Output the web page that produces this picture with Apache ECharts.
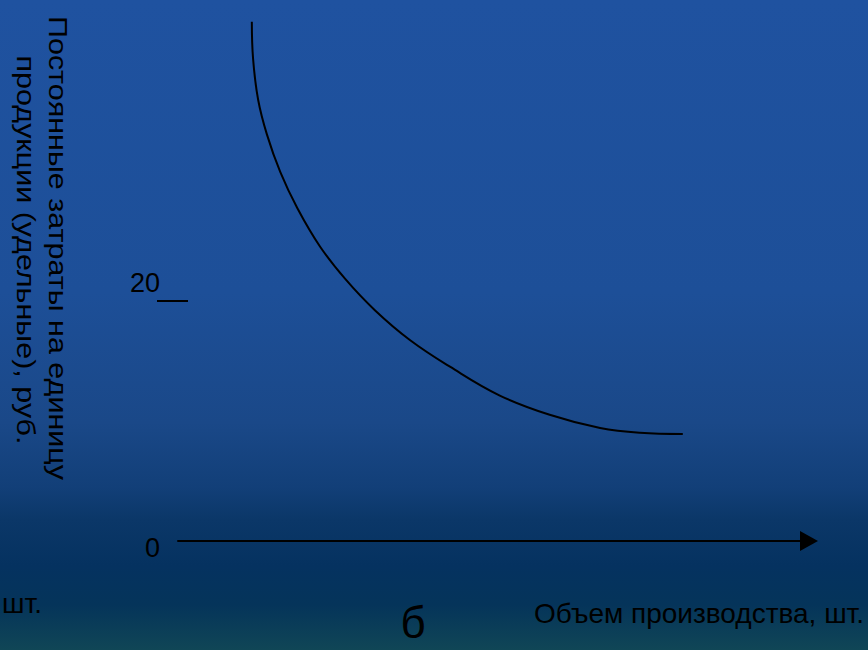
<!DOCTYPE html>
<html>
<head>
<meta charset="utf-8">
<script src="https://cdn.jsdelivr.net/npm/echarts@6/dist/echarts.min.js"></script>
<style>
  html, body { margin: 0; padding: 0; }
  #chart { width: 868px; height: 650px; }
</style>
</head>
<body>
<div id="chart"></div>
<script>
// объем производства (условные единицы по оси X)
const volume = [11.7, 11.9, 12.7, 14.1, 16.2, 18.9, 22.5, 26.5, 31.2, 36.8, 43.1, 51.0, 58.9, 66.9, 73.2, 80.0];
// постоянные затраты на единицу продукции, руб.
const unitCost = [43.2, 40.1, 36.7, 33.8, 30.7, 27.7, 24.5, 21.8, 19.2, 16.7, 14.5, 12.1, 10.5, 9.4, 9.0, 8.9];
const yTicks = [0, 20];

const yTitle = ['Постоянные затраты на единицу', 'продукции (удельные), руб.'];
const xTitle = 'Объем производства, шт.';
const leftNote = 'шт.';
const figLabel = 'б';

let myChart = echarts.init(document.getElementById('chart'), null, { renderer: 'svg' });

const font = 'Liberation Sans, Arial, sans-serif';

let option = {
  animation: false,
  backgroundColor: {
    type: 'linear', x: 0, y: 0, x2: 0, y2: 1,
    colorStops: [
      { offset: 0, color: '#1f52a0' },
      { offset: 0.45, color: '#1d4f98' },
      { offset: 0.65, color: '#1a4888' },
      { offset: 0.75, color: '#123f78' },
      { offset: 0.8, color: '#0b3768' },
      { offset: 0.87, color: '#053260' },
      { offset: 0.93, color: '#05345a' },
      { offset: 1, color: '#104656' }
    ]
  },
  grid: { left: 178, right: 59, top: 0, bottom: 109 },
  xAxis: {
    type: 'value',
    min: 0,
    max: 100,
    axisLine: {
      show: true,
      onZero: false,
      symbol: ['none', 'triangle'],
      symbolSize: [20, 18],
      lineStyle: { color: '#000', width: 2 }
    },
    axisTick: { show: false },
    axisLabel: { show: false },
    splitLine: { show: false }
  },
  yAxis: {
    type: 'value',
    min: 0,
    max: 45,
    offset: -10,
    axisLine: { show: false },
    axisTick: {
      show: true,
      customValues: [20],
      length: 31,
      lineStyle: { color: '#000', width: 2 }
    },
    axisLabel: {
      show: true,
      customValues: yTicks,
      margin: 28,
      color: '#000',
      fontFamily: font,
      fontSize: 27,
      formatter: v => (v === 0 ? '{b|0}' : '{a|' + v + '}'),
      rich: {
        a: { fontSize: 27, fontFamily: font, color: '#000', padding: [0, 0, 36, 0] },
        b: { fontSize: 27, fontFamily: font, color: '#000', padding: [14, 0, 0, 0] }
      }
    },
    splitLine: { show: false }
  },
  graphic: [
    {
      type: 'text', x: 58, y: 248, rotation: -Math.PI / 2, scaleX: 1.22,
      style: { text: yTitle[0], fill: '#000', font: '25px ' + font, align: 'center', verticalAlign: 'middle' }
    },
    {
      type: 'text', x: 26, y: 250, rotation: -Math.PI / 2, scaleX: 1.22,
      style: { text: yTitle[1], fill: '#000', font: '25px ' + font, align: 'center', verticalAlign: 'middle' }
    },
    {
      type: 'text', x: 534, y: 613,
      style: { text: xTitle, fill: '#000', font: '28px ' + font, align: 'left', verticalAlign: 'middle' }
    },
    {
      type: 'text', x: 2, y: 603,
      style: { text: leftNote, fill: '#000', font: '28px ' + font, align: 'left', verticalAlign: 'middle' }
    },
    {
      type: 'text', x: 413, y: 622,
      style: { text: figLabel, fill: '#000', font: '44px ' + font, align: 'center', verticalAlign: 'middle' }
    }
  ],
  series: [
    {
      type: 'line',
      data: volume.map((v, i) => [v, unitCost[i]]),
      smooth: 0.4,
      showSymbol: false,
      lineStyle: { color: '#000', width: 2 }
    }
  ]
};

myChart.setOption(option);
</script>
</body>
</html>
